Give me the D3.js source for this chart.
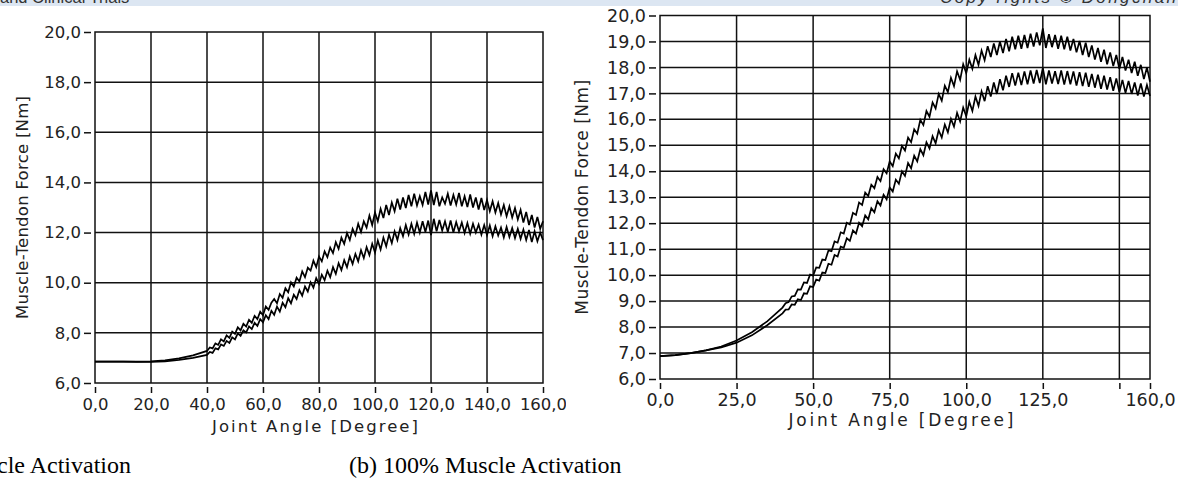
<!DOCTYPE html>
<html>
<head>
<meta charset="utf-8">
<script src="https://cdn.jsdelivr.net/npm/d3@7"></script>
<style>
  body { margin: 0; background: #fff; }
</style>
</head>
<body>
<div id="main"></div>
<script>
/// data ///
// joint angle samples [deg], shared by all four curves
const angles = [0, 5, 10, 15, 20, 25, 30, 35, 40,
    41, 42, 43, 44, 45, 46, 47, 48, 49, 50, 51, 52, 53, 54, 55, 56, 57, 58, 59, 60,
    61, 62, 63, 64, 65, 66, 67, 68, 69, 70, 71, 72, 73, 74, 75, 76, 77, 78, 79, 80,
    81, 82, 83, 84, 85, 86, 87, 88, 89, 90, 91, 92, 93, 94, 95, 96, 97, 98, 99, 100,
    101, 102, 103, 104, 105, 106, 107, 108, 109, 110, 111, 112, 113, 114, 115, 116, 117, 118, 119, 120,
    121, 122, 123, 124, 125, 126, 127, 128, 129, 130, 131, 132, 133, 134, 135, 136, 137, 138, 139, 140,
    141, 142, 143, 144, 145, 146, 147, 148, 149, 150, 151, 152, 153, 154, 155, 156, 157, 158, 159, 160];

// (a) left plot, force [Nm]
const leftUpper = [6.85, 6.85, 6.85, 6.85, 6.86, 6.90, 6.98, 7.10, 7.28,
    7.42, 7.38, 7.58, 7.52, 7.74, 7.66, 7.90, 7.80, 8.05, 7.96, 8.22, 8.10, 8.36, 8.25, 8.52, 8.40, 8.68, 8.55, 8.84, 8.70,
    9.05, 8.92, 9.20, 9.35, 9.18, 9.55, 9.40, 9.78, 9.62, 10.02, 9.85, 10.20, 10.05, 10.45, 10.22, 10.60, 10.48, 10.88, 10.62, 11.05,
    10.85, 11.25, 11.02, 11.40, 11.18, 11.62, 11.35, 11.80, 11.55, 11.98, 11.70, 12.15, 11.90, 12.35, 12.02, 12.45, 12.20, 12.68, 12.30, 12.80,
    12.45, 12.95, 12.58, 13.10, 12.70, 13.20, 12.85, 13.35, 12.92, 13.40, 12.98, 13.50, 13.05, 13.55, 13.08, 13.45, 13.10, 13.62, 13.12, 13.68,
    13.10, 13.62, 13.05, 13.40, 13.15, 13.55, 13.08, 13.50, 13.12, 13.58, 13.05, 13.45, 13.02, 13.52, 13.00, 13.40, 12.92, 13.38, 12.90, 13.30,
    12.85, 13.25, 12.80, 13.18, 12.72, 13.10, 12.65, 13.05, 12.60, 12.98, 12.52, 12.90, 12.40, 12.82, 12.30, 12.70, 12.20, 12.62, 12.15, 12.45];
const leftLower = [6.85, 6.85, 6.85, 6.84, 6.84, 6.86, 6.92, 7.00, 7.12,
    7.24, 7.20, 7.38, 7.34, 7.54, 7.48, 7.68, 7.60, 7.82, 7.74, 7.98, 7.88, 8.10, 8.02, 8.26, 8.15, 8.40, 8.28, 8.55, 8.42,
    8.70, 8.55, 8.88, 8.72, 9.05, 8.85, 9.20, 9.02, 9.38, 9.18, 9.52, 9.35, 9.70, 9.48, 9.85, 9.65, 10.02, 9.80, 10.18, 9.95,
    10.32, 10.10, 10.48, 10.22, 10.62, 10.35, 10.78, 10.50, 10.90, 10.62, 11.05, 10.75, 11.15, 10.85, 11.30, 10.98, 11.42, 11.10, 11.55, 11.20,
    11.68, 11.32, 11.80, 11.45, 11.92, 11.58, 12.05, 11.70, 12.18, 11.85, 12.30, 11.92, 12.35, 11.95, 12.40, 12.00, 12.45, 12.02, 12.48, 11.90,
    12.55, 12.05, 12.50, 12.08, 12.45, 12.02, 12.48, 12.00, 12.42, 12.05, 12.40, 11.98, 12.38, 11.95, 12.35, 12.00, 12.32, 11.92, 12.30, 11.90,
    12.28, 11.85, 12.25, 11.88, 12.20, 11.80, 12.22, 11.82, 12.18, 11.78, 12.15, 11.75, 12.12, 11.70, 12.10, 11.62, 12.05, 11.65, 12.00, 11.70];

// (b) right plot, force [Nm]
const rightUpper = [6.88, 6.92, 7.00, 7.10, 7.25, 7.48, 7.80, 8.22, 8.75,
    8.92, 8.96, 9.18, 9.20, 9.45, 9.44, 9.72, 9.70, 10.02, 9.98, 10.30, 10.28, 10.60, 10.58, 10.95, 10.92, 11.30, 11.25, 11.65, 11.60,
    12.02, 11.95, 12.40, 12.32, 12.80, 12.70, 13.18, 13.05, 13.48, 13.35, 13.78, 13.62, 14.08, 13.92, 14.38, 14.20, 14.68, 14.50, 14.98, 14.80,
    15.30, 15.12, 15.62, 15.45, 15.98, 15.78, 16.32, 16.10, 16.65, 16.42, 16.98, 16.72, 17.30, 17.05, 17.60, 17.28, 17.85, 17.52, 18.12, 17.78,
    18.30, 17.95, 18.48, 18.10, 18.65, 18.28, 18.82, 18.40, 18.92, 18.48, 19.00, 18.55, 19.10, 18.62, 19.18, 18.70, 19.22, 18.72, 19.25, 18.75,
    19.30, 18.80, 19.35, 18.85, 19.50, 18.75, 19.28, 18.78, 19.25, 18.72, 19.22, 18.70, 19.18, 18.65, 19.10, 18.58, 19.02, 18.48, 18.95, 18.40,
    18.85, 18.30, 18.75, 18.22, 18.68, 18.12, 18.58, 18.05, 18.48, 17.95, 18.40, 17.88, 18.30, 17.78, 18.22, 17.68, 18.10, 17.55, 18.00, 17.45];
const rightLower = [6.88, 6.92, 7.00, 7.10, 7.22, 7.40, 7.68, 8.07, 8.53,
    8.67, 8.68, 8.87, 8.86, 9.07, 9.04, 9.30, 9.28, 9.57, 9.54, 9.83, 9.79, 10.10, 10.08, 10.44, 10.40, 10.78, 10.72, 11.10, 11.05,
    11.42, 11.32, 11.72, 11.60, 12.02, 11.88, 12.30, 12.15, 12.58, 12.42, 12.85, 12.68, 13.10, 12.92, 13.38, 13.22, 13.68, 13.52, 14.00, 13.82,
    14.32, 14.12, 14.60, 14.38, 14.85, 14.62, 15.12, 14.88, 15.35, 15.08, 15.58, 15.30, 15.80, 15.50, 16.02, 15.72, 16.25, 15.92, 16.45, 16.12,
    16.68, 16.32, 16.88, 16.52, 17.08, 16.70, 17.28, 16.88, 17.42, 16.98, 17.55, 17.12, 17.68, 17.25, 17.78, 17.30, 17.80, 17.32, 17.85, 17.35,
    17.88, 17.38, 17.90, 17.40, 17.98, 17.35, 17.88, 17.38, 17.85, 17.36, 17.88, 17.34, 17.86, 17.35, 17.85, 17.30, 17.82, 17.28, 17.80, 17.25,
    17.75, 17.22, 17.72, 17.18, 17.68, 17.15, 17.62, 17.10, 17.58, 17.05, 17.52, 17.02, 17.48, 16.98, 17.42, 16.92, 17.38, 16.88, 17.32, 16.90];

// ticks //
const leftXTicks = [0, 20, 40, 60, 80, 100, 120, 140, 160];
const leftYTicks = [6, 8, 10, 12, 14, 16, 18, 20];
const rightXTicks = [0, 25, 50, 75, 100, 125, 150, 160];
const rightXLabelSkip = [150];
const rightYTicks = [6, 7, 8, 9, 10, 11, 12, 13, 14, 15, 16, 17, 18, 19, 20];

const xTitle = 'Joint Angle [Degree]';
const yTitle = 'Muscle-Tendon Force [Nm]';
const captions = ['(a) 50% Muscle Activation', '(b) 100% Muscle Activation'];

/// svg frame ///
const w = 1178;
const h = 481;
const ink = '#111';
const tickFont = '"DejaVu Sans", sans-serif';

let svg = d3.select('#main')
        .append('svg')
        .attr('width', w)
        .attr('height', h)
        .style('display', 'block');

// page header band (cut off at the top of the crop)
svg.append('rect')
    .attr('x', 0).attr('y', 0)
    .attr('width', w).attr('height', 6)
    .attr('fill', '#dce6f2');

svg.append('text')
    .attr('x', 0).attr('y', 3)
    .attr('font-family', '"Liberation Sans", Arial, sans-serif')
    .attr('font-size', 16.5)
    .attr('fill', '#333')
    .text('and Clinical Trials');

svg.append('text')
    .attr('x', 940).attr('y', 3)
    .attr('font-family', '"Liberation Sans", Arial, sans-serif')
    .attr('font-size', 17)
    .attr('font-style', 'italic')
    .attr('fill', '#333')
    .attr('textLength', 236)
    .attr('lengthAdjust', 'spacing')
    .text('Copy rights \u00a9 Dongchan');

svg.append('clipPath')
    .attr('id', 'leftClip')
    .append('rect')
    .attr('x', 0).attr('y', 0)
    .attr('width', 566).attr('height', h);

/// one plot panel ///
let createPlot = (p) => {

    let g = svg.append('g');
    if (p.clip) g.attr('clip-path', 'url(#' + p.clip + ')');

    let xScale = d3.scaleLinear()
            .domain([0, 160])
            .range([p.left, p.right]);

    let yScale = d3.scaleLinear()
            .domain([6, 20])
            .range([p.bottom, p.top]);

    // grid //
    g.selectAll('line.vgrid')
        .data(p.xTicks.filter(d => d > 0 && d < 160))
        .enter()
        .append('line')
        .attr('x1', d => xScale(d)).attr('x2', d => xScale(d))
        .attr('y1', p.top).attr('y2', p.bottom)
        .attr('stroke', ink).attr('stroke-width', 1.5);

    g.selectAll('line.hgrid')
        .data(p.yTicks.filter(d => d > 6 && d < 20))
        .enter()
        .append('line')
        .attr('x1', p.left).attr('x2', p.right)
        .attr('y1', d => yScale(d)).attr('y2', d => yScale(d))
        .attr('stroke', ink).attr('stroke-width', 1.5);

    g.append('rect')
        .attr('x', p.left).attr('y', p.top)
        .attr('width', p.right - p.left).attr('height', p.bottom - p.top)
        .attr('fill', 'none')
        .attr('stroke', ink).attr('stroke-width', 1.5);

    // axes //
    let fmt = d => (p.skip && p.skip.includes(d)) ? '' : d3.format('.1f')(d).replace('.', ',');

    let yAxis = d3.axisLeft(yScale)
            .tickValues(p.yTicks)
            .tickSize(7)
            .tickPadding(3)
            .tickFormat(fmt);

    g.append('g')
        .attr('transform', 'translate(' + (p.left - 4) + ',0)')
        .call(yAxis)
        .call(a => a.select('.domain').remove())
        .attr('font-family', tickFont)
        .attr('font-size', p.tickSize)
        .call(a => a.selectAll('line').attr('stroke', ink).attr('stroke-width', 1.5))
        .call(a => a.selectAll('text').attr('fill', '#222'));

    let xAxis = d3.axisBottom(xScale)
            .tickValues(p.xTicks)
            .tickSize(6)
            .tickPadding(5)
            .tickFormat(fmt);

    g.append('g')
        .attr('transform', 'translate(0,' + (p.bottom + 4) + ')')
        .call(xAxis)
        .call(a => a.select('.domain').remove())
        .attr('font-family', tickFont)
        .attr('font-size', p.tickSize)
        .call(a => a.selectAll('line').attr('stroke', ink).attr('stroke-width', 1.5))
        .call(a => a.selectAll('text').attr('fill', '#222'));

    // titles //
    g.append('text')
        .attr('x', (p.left + p.right) / 2 - 4)
        .attr('y', p.bottom + p.xTitleDy)
        .attr('text-anchor', 'middle')
        .attr('font-family', tickFont)
        .attr('font-size', p.titleSize)
        .attr('fill', '#222')
        .attr('textLength', p.xTitleLen)
        .attr('lengthAdjust', 'spacing')
        .text(xTitle);

    g.append('text')
        .attr('transform', 'translate(' + p.yTitleX + ',' + (p.top + p.bottom) / 2 + ') rotate(-90)')
        .attr('text-anchor', 'middle')
        .attr('font-family', tickFont)
        .attr('font-size', p.titleSize)
        .attr('fill', '#222')
        .attr('textLength', p.yTitleLen)
        .attr('lengthAdjust', 'spacing')
        .text(yTitle);

    // the two loading curves //
    let line = d3.line()
            .x(d => xScale(d[0]))
            .y(d => yScale(d[1]));

    p.series.forEach(vals => {
        g.append('path')
            .datum(angles.map((a, i) => [a, vals[i]]))
            .attr('d', line)
            .attr('fill', 'none')
            .attr('stroke', '#000')
            .attr('stroke-width', 1.7)
            .attr('stroke-linejoin', 'miter');
    });
}

createPlot({
    left: 95, right: 543, top: 32, bottom: 383,
    xTicks: leftXTicks, yTicks: leftYTicks,
    tickSize: 16.5, titleSize: 16.5,
    xTitleDy: 49, xTitleLen: 206,
    yTitleX: 28, yTitleLen: 223,
    clip: 'leftClip',
    series: [leftUpper, leftLower]
});

createPlot({
    left: 660, right: 1150, top: 15.5, bottom: 379,
    xTicks: rightXTicks, yTicks: rightYTicks, skip: rightXLabelSkip,
    tickSize: 17.5, titleSize: 17,
    xTitleDy: 47, xTitleLen: 225,
    yTitleX: 588, yTitleLen: 235,
    series: [rightUpper, rightLower]
});

/// captions ///
svg.append('text')
    .attr('x', 131).attr('y', 473)
    .attr('text-anchor', 'end')
    .attr('font-family', '"Liberation Serif", "Times New Roman", serif')
    .attr('font-size', 24)
    .attr('fill', '#000')
    .text(captions[0]);

svg.append('text')
    .attr('x', 349).attr('y', 473)
    .attr('font-family', '"Liberation Serif", "Times New Roman", serif')
    .attr('font-size', 24)
    .attr('fill', '#000')
    .text(captions[1]);
</script>
</body>
</html>
